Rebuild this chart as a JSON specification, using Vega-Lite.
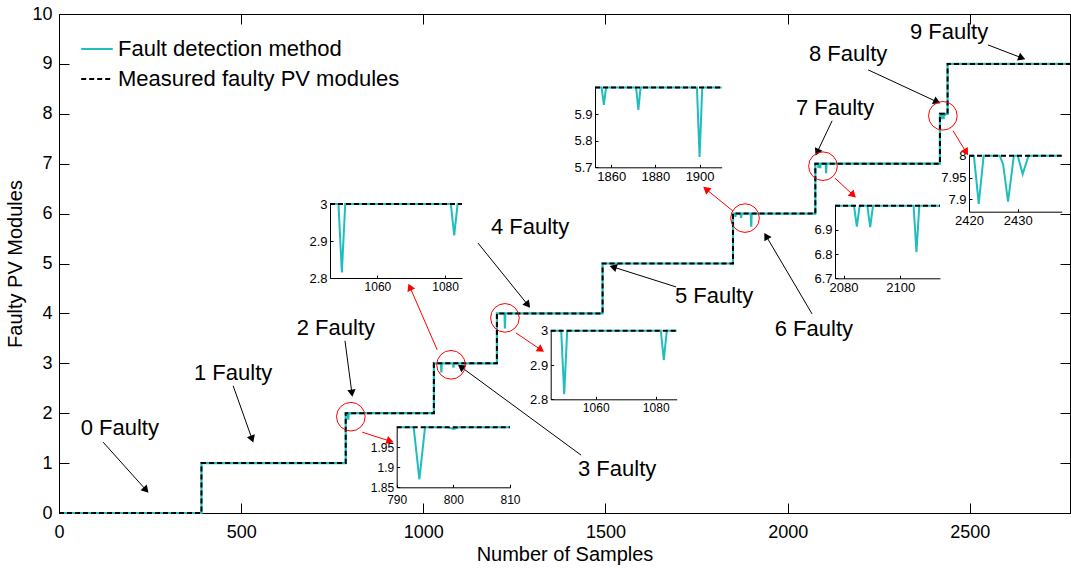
{
  "$schema": "https://vega.github.io/schema/vega-lite/v6.json",
  "width": 1011,
  "height": 499,
  "autosize": "none",
  "padding": {"left": 59, "top": 14, "right": 1, "bottom": 56},
  "background": "white",
  "config": {
    "font": "Liberation Sans",
    "view": {"stroke": "black", "strokeWidth": 1},
    "axis": {"grid": false, "domainColor": "black", "tickColor": "black", "labelColor": "black", "titleColor": "black", "labelFont": "Liberation Sans", "titleFont": "Liberation Sans", "titleFontWeight": "normal", "labelFlush": false, "labelOverlap": false}
  },
  "datasets": {
    "detected": [
      {"x": 0, "y": 0, "series": "Fault detection method"},
      {"x": 391, "y": 0, "series": "Fault detection method"},
      {"x": 391, "y": 1, "series": "Fault detection method"},
      {"x": 787, "y": 1, "series": "Fault detection method"},
      {"x": 787, "y": 2, "series": "Fault detection method"},
      {"x": 793, "y": 2, "series": "Fault detection method"},
      {"x": 794, "y": 1.87, "series": "Fault detection method"},
      {"x": 795, "y": 2, "series": "Fault detection method"},
      {"x": 799, "y": 2, "series": "Fault detection method"},
      {"x": 800, "y": 1.996, "series": "Fault detection method"},
      {"x": 801, "y": 2, "series": "Fault detection method"},
      {"x": 1029, "y": 2, "series": "Fault detection method"},
      {"x": 1029, "y": 3, "series": "Fault detection method"},
      {"x": 1048.5, "y": 3, "series": "Fault detection method"},
      {"x": 1049.5, "y": 2.815, "series": "Fault detection method"},
      {"x": 1050.5, "y": 3, "series": "Fault detection method"},
      {"x": 1081.7, "y": 3, "series": "Fault detection method"},
      {"x": 1082.7, "y": 2.915, "series": "Fault detection method"},
      {"x": 1083.7, "y": 3, "series": "Fault detection method"},
      {"x": 1202, "y": 3, "series": "Fault detection method"},
      {"x": 1202, "y": 4, "series": "Fault detection method"},
      {"x": 1223, "y": 4, "series": "Fault detection method"},
      {"x": 1224, "y": 3.7, "series": "Fault detection method"},
      {"x": 1225, "y": 4, "series": "Fault detection method"},
      {"x": 1492, "y": 4, "series": "Fault detection method"},
      {"x": 1492, "y": 5, "series": "Fault detection method"},
      {"x": 1850, "y": 5, "series": "Fault detection method"},
      {"x": 1850, "y": 6, "series": "Fault detection method"},
      {"x": 1855.7, "y": 6, "series": "Fault detection method"},
      {"x": 1856.7, "y": 5.935, "series": "Fault detection method"},
      {"x": 1857.7, "y": 6, "series": "Fault detection method"},
      {"x": 1871.3, "y": 6, "series": "Fault detection method"},
      {"x": 1872.3, "y": 5.916, "series": "Fault detection method"},
      {"x": 1873.3, "y": 6, "series": "Fault detection method"},
      {"x": 1898.8, "y": 6, "series": "Fault detection method"},
      {"x": 1900, "y": 5.739, "series": "Fault detection method"},
      {"x": 1901.2, "y": 6, "series": "Fault detection method"},
      {"x": 2076, "y": 6, "series": "Fault detection method"},
      {"x": 2076, "y": 7, "series": "Fault detection method"},
      {"x": 2083.7, "y": 7, "series": "Fault detection method"},
      {"x": 2084.7, "y": 6.914, "series": "Fault detection method"},
      {"x": 2085.7, "y": 7, "series": "Fault detection method"},
      {"x": 2088.4, "y": 7, "series": "Fault detection method"},
      {"x": 2089.4, "y": 6.911, "series": "Fault detection method"},
      {"x": 2090.4, "y": 7, "series": "Fault detection method"},
      {"x": 2104.7, "y": 7, "series": "Fault detection method"},
      {"x": 2105.7, "y": 6.808, "series": "Fault detection method"},
      {"x": 2106.7, "y": 7, "series": "Fault detection method"},
      {"x": 2418, "y": 7, "series": "Fault detection method"},
      {"x": 2418, "y": 8, "series": "Fault detection method"},
      {"x": 2421, "y": 8, "series": "Fault detection method"},
      {"x": 2422, "y": 7.89, "series": "Fault detection method"},
      {"x": 2423, "y": 8, "series": "Fault detection method"},
      {"x": 2426.3, "y": 8, "series": "Fault detection method"},
      {"x": 2427, "y": 7.98, "series": "Fault detection method"},
      {"x": 2428, "y": 7.895, "series": "Fault detection method"},
      {"x": 2429.2, "y": 8, "series": "Fault detection method"},
      {"x": 2430, "y": 8, "series": "Fault detection method"},
      {"x": 2431, "y": 7.958, "series": "Fault detection method"},
      {"x": 2432.2, "y": 8, "series": "Fault detection method"},
      {"x": 2439, "y": 8, "series": "Fault detection method"},
      {"x": 2439, "y": 9, "series": "Fault detection method"},
      {"x": 2775, "y": 9, "series": "Fault detection method"}
    ],
    "measured": [
      {"x": 0, "y": 0, "series": "Measured faulty PV modules"},
      {"x": 391, "y": 0, "series": "Measured faulty PV modules"},
      {"x": 391, "y": 1, "series": "Measured faulty PV modules"},
      {"x": 787, "y": 1, "series": "Measured faulty PV modules"},
      {"x": 787, "y": 2, "series": "Measured faulty PV modules"},
      {"x": 1029, "y": 2, "series": "Measured faulty PV modules"},
      {"x": 1029, "y": 3, "series": "Measured faulty PV modules"},
      {"x": 1202, "y": 3, "series": "Measured faulty PV modules"},
      {"x": 1202, "y": 4, "series": "Measured faulty PV modules"},
      {"x": 1492, "y": 4, "series": "Measured faulty PV modules"},
      {"x": 1492, "y": 5, "series": "Measured faulty PV modules"},
      {"x": 1850, "y": 5, "series": "Measured faulty PV modules"},
      {"x": 1850, "y": 6, "series": "Measured faulty PV modules"},
      {"x": 2076, "y": 6, "series": "Measured faulty PV modules"},
      {"x": 2076, "y": 7, "series": "Measured faulty PV modules"},
      {"x": 2418, "y": 7, "series": "Measured faulty PV modules"},
      {"x": 2418, "y": 8, "series": "Measured faulty PV modules"},
      {"x": 2439, "y": 8, "series": "Measured faulty PV modules"},
      {"x": 2439, "y": 9, "series": "Measured faulty PV modules"},
      {"x": 2775, "y": 9, "series": "Measured faulty PV modules"}
    ],
    "labels": [
      {"label": "0 Faulty", "x": 167, "y": 1.7},
      {"label": "1 Faulty", "x": 478, "y": 2.81},
      {"label": "2 Faulty", "x": 760, "y": 3.71},
      {"label": "3 Faulty", "x": 1532, "y": 0.88},
      {"label": "4 Faulty", "x": 1293, "y": 5.73},
      {"label": "5 Faulty", "x": 1798, "y": 4.35},
      {"label": "6 Faulty", "x": 2072, "y": 3.69},
      {"label": "7 Faulty", "x": 2130, "y": 8.12},
      {"label": "8 Faulty", "x": 2166, "y": 9.2},
      {"label": "9 Faulty", "x": 2443, "y": 9.64}
    ],
    "blackArrows": [
      {"x0": 121, "y0": 1.42, "x": 239, "y": 0.46},
      {"x0": 478, "y0": 2.55, "x": 530, "y": 1.48},
      {"x0": 785, "y0": 3.45, "x": 804, "y": 2.4},
      {"x0": 1433, "y0": 1.16, "x": 1103, "y": 2.93},
      {"x0": 1150, "y0": 5.41, "x": 1287, "y": 4.17},
      {"x0": 1694, "y0": 4.53, "x": 1521, "y": 4.93},
      {"x0": 2067, "y0": 3.99, "x": 1941, "y": 5.55},
      {"x0": 2122, "y0": 7.86, "x": 2081, "y": 7.23},
      {"x0": 2221, "y0": 8.88, "x": 2410, "y": 8.24},
      {"x0": 2550, "y0": 9.38, "x": 2643, "y": 9.12}
    ],
    "redArrows": [
      {"x0": 832, "y0": 1.62, "x": 909, "y": 1.44},
      {"x0": 1038, "y0": 3.27, "x": 963, "y": 4.53},
      {"x0": 1254, "y0": 3.61, "x": 1323, "y": 3.27},
      {"x0": 1850, "y0": 6.05, "x": 1776, "y": 6.49},
      {"x0": 2130, "y0": 6.71, "x": 2180, "y": 6.37},
      {"x0": 2454, "y0": 7.66, "x": 2490, "y": 7.23}
    ],
    "circles": [
      {"x": 801, "y": 1.93},
      {"x": 1076, "y": 2.97},
      {"x": 1224, "y": 3.91},
      {"x": 1883, "y": 5.91},
      {"x": 2097, "y": 6.95},
      {"x": 2426, "y": 7.96}
    ]
  },
  "layer": [
    {
      "encoding": {
        "x": {"field": "x", "type": "quantitative", "scale": {"domain": [0, 2775], "nice": false, "zero": false},
          "axis": {"orient": "bottom", "title": "Number of Samples", "values": [0, 500, 1000, 1500, 2000, 2500], "format": "d", "tickSize": -10, "labelPadding": 20, "labelFontSize": 18, "titleFontSize": 20, "titlePadding": 3}},
        "y": {"field": "y", "type": "quantitative", "scale": {"domain": [0, 10], "nice": false, "zero": false},
          "axis": {"orient": "left", "title": "Faulty PV Modules", "values": [0, 1, 2, 3, 4, 5, 6, 7, 8, 9, 10], "format": "d", "tickSize": -10, "labelPadding": 17, "labelFontSize": 18, "titleFontSize": 20, "titlePadding": 6}}
      },
      "layer": [
        {
          "data": {"name": "detected"},
          "mark": {"type": "line", "strokeWidth": 2.2},
          "encoding": {
            "order": {"value": null},
            "color": {"field": "series", "type": "nominal", "scale": {"domain": ["Fault detection method", "Measured faulty PV modules"], "range": ["#20bdbd", "#000000"]},
              "legend": {"orient": "none", "legendX": 21, "legendY": 18, "title": null, "symbolType": "stroke", "symbolSize": 1000, "symbolStrokeWidth": 2, "labelFontSize": 22, "labelFont": "Liberation Sans", "labelColor": "black", "labelOffset": 4, "labelLimit": 0, "rowPadding": 2, "padding": 0}},
            "strokeDash": {"field": "series", "type": "nominal", "scale": {"domain": ["Fault detection method", "Measured faulty PV modules"], "range": [[1, 0], [5, 3]]},
              "legend": {"orient": "none", "legendX": 21, "legendY": 18, "title": null, "symbolType": "stroke", "symbolSize": 1000, "symbolStrokeWidth": 2, "labelFontSize": 22, "labelFont": "Liberation Sans", "labelColor": "black", "labelOffset": 4, "labelLimit": 0, "rowPadding": 2, "padding": 0}}
          }
        },
        {
          "data": {"name": "measured"},
          "mark": {"type": "line", "strokeWidth": 2},
          "encoding": {
            "order": {"value": null},
            "color": {"field": "series", "type": "nominal"},
            "strokeDash": {"field": "series", "type": "nominal"}
          }
        },
        {
          "data": {"name": "labels"},
          "mark": {"type": "text", "fontSize": 22, "font": "Liberation Sans", "color": "black", "align": "center", "baseline": "middle"},
          "encoding": {"text": {"field": "label"}}
        },
        {
          "data": {"name": "blackArrows"},
          "mark": {"type": "rule", "color": "black", "strokeWidth": 1},
          "encoding": {"x2": {"field": "x0"}, "y2": {"field": "y0"}}
        },
        {
          "data": {"name": "blackArrows"},
          "transform": [{"calculate": "atan2((datum.x - datum.x0) * 0.36432, (datum.y - datum.y0) * 49.9) * 180 / PI", "as": "angle"}],
          "mark": {"type": "point", "shape": "triangle-up", "filled": true, "color": "black", "size": 70, "opacity": 1},
          "encoding": {"angle": {"field": "angle", "type": "quantitative", "scale": null}}
        },
        {
          "data": {"name": "redArrows"},
          "mark": {"type": "rule", "color": "#ff0000", "strokeWidth": 1},
          "encoding": {"x2": {"field": "x0"}, "y2": {"field": "y0"}}
        },
        {
          "data": {"name": "redArrows"},
          "transform": [{"calculate": "atan2((datum.x - datum.x0) * 0.36432, (datum.y - datum.y0) * 49.9) * 180 / PI", "as": "angle"}],
          "mark": {"type": "point", "shape": "triangle-up", "filled": true, "color": "#ff0000", "size": 70, "opacity": 1},
          "encoding": {"angle": {"field": "angle", "type": "quantitative", "scale": null}}
        },
        {
          "data": {"name": "circles"},
          "mark": {"type": "point", "shape": "circle", "filled": false, "stroke": "#ff0000", "strokeWidth": 1, "size": 820, "opacity": 1}
        }
      ]
    },
    {
      "data": {"name": "measured"},
      "mark": {"type": "line", "opacity": 0},
      "encoding": {
        "order": {"value": null},
        "x": {"field": "x", "type": "quantitative", "scale": {"domain": [0, 2775], "nice": false, "zero": false},
          "axis": {"orient": "top", "title": null, "values": [0, 500, 1000, 1500, 2000, 2500], "tickSize": -10, "labels": false, "domain": false}},
        "y": {"field": "y", "type": "quantitative", "scale": {"domain": [0, 10], "nice": false, "zero": false},
          "axis": {"orient": "right", "title": null, "values": [0, 1, 2, 3, 4, 5, 6, 7, 8, 9, 10], "tickSize": -10, "labels": false, "domain": false}}
      }
    },
    {
      "encoding": {
        "x": {"field": "x", "type": "quantitative", "scale": {"domain": [1046, 1085], "range": [271, 403], "clamp": true, "nice": false, "zero": false},
          "axis": {"orient": "bottom", "offset": -235, "title": null, "values": [1060, 1080], "format": "d", "tickSize": -3, "labelPadding": 6, "labelFontSize": 12}},
        "y": {"field": "y", "type": "quantitative", "scale": {"domain": [2.8, 3], "range": [264, 190], "nice": false, "zero": false},
          "axis": {"orient": "left", "offset": -271, "title": null, "values": [2.8, 2.9, 3], "format": "~g", "tickSize": -3, "labelPadding": 6, "labelFontSize": 13}},
        "order": {"value": null}
      },
      "layer": [
        {"data": {"name": "detected"}, "transform": [{"filter": "datum.y >= 2.5 && datum.y <= 3.5"}], "mark": {"type": "line", "color": "#20bdbd", "strokeWidth": 2}},
        {"data": {"name": "measured"}, "transform": [{"filter": "datum.y >= 2.5 && datum.y <= 3.5"}], "mark": {"type": "line", "color": "black", "strokeWidth": 2, "strokeDash": [5, 3]}}
      ]
    },
    {
      "encoding": {
        "x": {"field": "x", "type": "quantitative", "scale": {"domain": [790, 810], "range": [337.7, 451], "clamp": true, "nice": false, "zero": false},
          "axis": {"orient": "bottom", "offset": -25.7, "title": null, "values": [790, 800, 810], "format": "d", "tickSize": -3, "labelPadding": 10, "labelFontSize": 12}},
        "y": {"field": "y", "type": "quantitative", "scale": {"domain": [1.85, 2], "range": [473.3, 413.3], "nice": false, "zero": false},
          "axis": {"orient": "left", "offset": -337.7, "title": null, "values": [1.85, 1.9, 1.95], "format": "~g", "tickSize": -3, "labelPadding": 6, "labelFontSize": 12}},
        "order": {"value": null}
      },
      "layer": [
        {"data": {"name": "detected"}, "transform": [{"filter": "datum.y >= 1.5 && datum.y <= 2.5"}], "mark": {"type": "line", "color": "#20bdbd", "strokeWidth": 2}},
        {"data": {"name": "measured"}, "transform": [{"filter": "datum.y >= 1.5 && datum.y <= 2.5"}], "mark": {"type": "line", "color": "black", "strokeWidth": 2, "strokeDash": [5, 3]}}
      ]
    },
    {
      "encoding": {
        "x": {"field": "x", "type": "quantitative", "scale": {"domain": [1045, 1087], "range": [491.7, 617.7], "clamp": true, "nice": false, "zero": false},
          "axis": {"orient": "bottom", "offset": -113.7, "title": null, "values": [1060, 1080], "format": "d", "tickSize": -3, "labelPadding": 6, "labelFontSize": 12}},
        "y": {"field": "y", "type": "quantitative", "scale": {"domain": [2.8, 3], "range": [385.3, 316.7], "nice": false, "zero": false},
          "axis": {"orient": "left", "offset": -491.7, "title": null, "values": [2.8, 2.9, 3], "format": "~g", "tickSize": -3, "labelPadding": 6, "labelFontSize": 13}},
        "order": {"value": null}
      },
      "layer": [
        {"data": {"name": "detected"}, "transform": [{"filter": "datum.y >= 2.5 && datum.y <= 3.5"}], "mark": {"type": "line", "color": "#20bdbd", "strokeWidth": 2}},
        {"data": {"name": "measured"}, "transform": [{"filter": "datum.y >= 2.5 && datum.y <= 3.5"}], "mark": {"type": "line", "color": "black", "strokeWidth": 2, "strokeDash": [5, 3]}}
      ]
    },
    {
      "encoding": {
        "x": {"field": "x", "type": "quantitative", "scale": {"domain": [1852.7, 1910], "range": [536, 662.7], "clamp": true, "nice": false, "zero": false},
          "axis": {"orient": "bottom", "offset": -345.7, "title": null, "values": [1860, 1880, 1900], "format": "d", "tickSize": -3, "labelPadding": 6, "labelFontSize": 13}},
        "y": {"field": "y", "type": "quantitative", "scale": {"domain": [5.7, 6], "range": [153.3, 73.6], "nice": false, "zero": false},
          "axis": {"orient": "left", "offset": -536, "title": null, "values": [5.7, 5.8, 5.9], "format": "~g", "tickSize": -3, "labelPadding": 6, "labelFontSize": 13}},
        "order": {"value": null}
      },
      "layer": [
        {"data": {"name": "detected"}, "transform": [{"filter": "datum.y >= 5.5 && datum.y <= 6.5"}], "mark": {"type": "line", "color": "#20bdbd", "strokeWidth": 2}},
        {"data": {"name": "measured"}, "transform": [{"filter": "datum.y >= 5.5 && datum.y <= 6.5"}], "mark": {"type": "line", "color": "black", "strokeWidth": 2, "strokeDash": [5, 3]}}
      ]
    },
    {
      "encoding": {
        "x": {"field": "x", "type": "quantitative", "scale": {"domain": [2077, 2114], "range": [776, 881], "clamp": true, "nice": false, "zero": false},
          "axis": {"orient": "bottom", "offset": -234.7, "title": null, "values": [2080, 2100], "format": "d", "tickSize": -3, "labelPadding": 6, "labelFontSize": 13}},
        "y": {"field": "y", "type": "quantitative", "scale": {"domain": [6.7, 7], "range": [264.3, 191.7], "nice": false, "zero": false},
          "axis": {"orient": "left", "offset": -776, "title": null, "values": [6.7, 6.8, 6.9], "format": "~g", "tickSize": -3, "labelPadding": 6, "labelFontSize": 13}},
        "order": {"value": null}
      },
      "layer": [
        {"data": {"name": "detected"}, "transform": [{"filter": "datum.y >= 6.5 && datum.y <= 7.5"}], "mark": {"type": "line", "color": "#20bdbd", "strokeWidth": 2}},
        {"data": {"name": "measured"}, "transform": [{"filter": "datum.y >= 6.5 && datum.y <= 7.5"}], "mark": {"type": "line", "color": "black", "strokeWidth": 2, "strokeDash": [5, 3]}}
      ]
    },
    {
      "encoding": {
        "x": {"field": "x", "type": "quantitative", "scale": {"domain": [2420, 2439], "range": [910, 1002.7], "clamp": true, "nice": false, "zero": false},
          "axis": {"orient": "bottom", "offset": -301.3, "title": null, "values": [2420, 2430], "format": "d", "tickSize": -3, "labelPadding": 6, "labelFontSize": 13}},
        "y": {"field": "y", "type": "quantitative", "scale": {"domain": [7.872, 8], "range": [197.7, 141.7], "nice": false, "zero": false},
          "axis": {"orient": "left", "offset": -910, "title": null, "values": [7.9, 7.95, 8], "format": "~g", "tickSize": -3, "labelPadding": 6, "labelFontSize": 13}},
        "order": {"value": null}
      },
      "layer": [
        {"data": {"name": "detected"}, "transform": [{"filter": "datum.y >= 7.5 && datum.y <= 8.5"}], "mark": {"type": "line", "color": "#20bdbd", "strokeWidth": 2}},
        {"data": {"name": "measured"}, "transform": [{"filter": "datum.y >= 7.5 && datum.y <= 8.5"}], "mark": {"type": "line", "color": "black", "strokeWidth": 2, "strokeDash": [5, 3]}}
      ]
    }
  ],
  "resolve": {"scale": {"x": "independent", "y": "independent"}}
}
